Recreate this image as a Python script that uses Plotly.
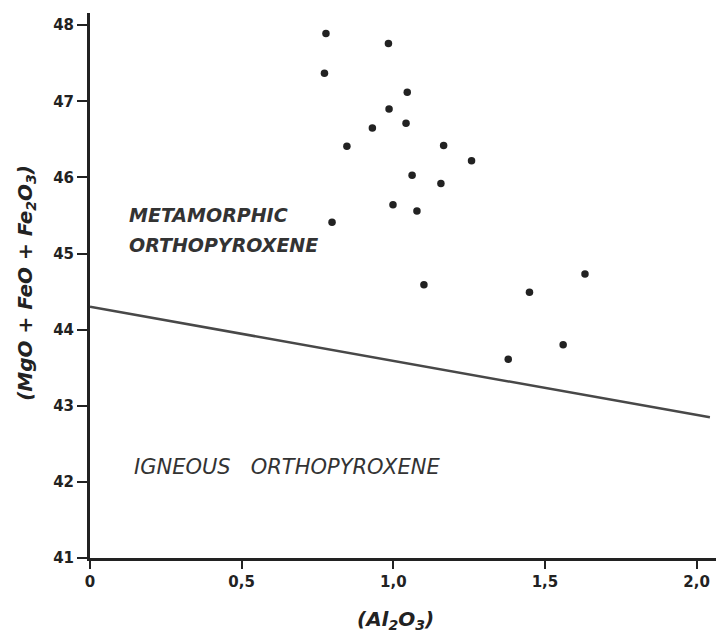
import plotly.graph_objects as go

# Data
al2o3 = [0.778, 0.984, 0.773, 1.046, 0.986, 0.931, 1.042, 0.847, 1.166, 1.258,
         1.062, 1.157, 0.999, 1.078, 0.798, 1.101, 1.449, 1.632, 1.379, 1.560]
mgo_feo = [47.89, 47.76, 47.37, 47.12, 46.90, 46.65, 46.71, 46.41, 46.42, 46.22,
           46.03, 45.92, 45.64, 45.56, 45.41, 44.59, 44.49, 44.73, 43.61, 43.80]

boundary_x = [0.0, 2.044]
boundary_y = [44.30, 44.30 - 0.71 * 2.044]

x_tickvals = [0, 0.5, 1.0, 1.5, 2.0]
x_ticktext = ["0", "0,5", "1,0", "1,5", "2,0"]
y_tickvals = [41, 42, 43, 44, 45, 46, 47, 48]
y_ticktext = ["41", "42", "43", "44", "45", "46", "47", "48"]

ink = "#222222"

fig = go.Figure()
fig.add_trace(go.Scatter(x=boundary_x, y=boundary_y, mode="lines",
                         line=dict(color="#484848", width=2.5),
                         hoverinfo="skip", showlegend=False))
fig.add_trace(go.Scatter(x=al2o3, y=mgo_feo, mode="markers",
                         marker=dict(color=ink, size=7.5),
                         showlegend=False))

tick_font = dict(family="DejaVu Sans", size=15, color=ink, weight="bold")
fig.update_layout(
    width=716, height=632,
    margin=dict(l=90, r=0, t=13, b=74),
    paper_bgcolor="white", plot_bgcolor="white",
    font=dict(family="DejaVu Sans", color=ink),
    xaxis=dict(range=[0, 2.064], showgrid=False, zeroline=False,
               showline=True, linecolor=ink, linewidth=3,
               ticks="outside", ticklen=8, tickwidth=2, tickcolor=ink,
               tickvals=x_tickvals, ticktext=x_ticktext, tickfont=tick_font),
    yaxis=dict(range=[41, 48.16], showgrid=False, zeroline=False,
               showline=True, linecolor=ink, linewidth=3,
               ticks="outside", ticklen=10, tickwidth=2, tickcolor=ink,
               tickvals=y_tickvals, ticktext=y_ticktext, tickfont=tick_font),
)

label_font = dict(family="DejaVu Sans", size=19, color="#333333")
fig.add_annotation(x=0.123, y=45.50, xref="x", yref="y", xanchor="left", yanchor="middle",
                   text="<b><i>METAMORPHIC</i></b>", showarrow=False, font=label_font)
fig.add_annotation(x=0.123, y=45.11, xref="x", yref="y", xanchor="left", yanchor="middle",
                   text="<b><i>ORTHOPYROXENE</i></b>", showarrow=False, font=label_font)
fig.add_annotation(x=0.140, y=42.19, xref="x", yref="y", xanchor="left", yanchor="middle",
                   text="<i>IGNEOUS&nbsp;&nbsp;&nbsp;ORTHOPYROXENE</i>", showarrow=False,
                   font=dict(family="DejaVu Sans", size=21, color="#333333"))

title_font = dict(family="DejaVu Sans", size=20, color=ink)
fig.add_annotation(x=(26 - 90) / 626, y=0.505, xref="paper", yref="paper",
                   xanchor="center", yanchor="middle",
                   text="<b><i>(MgO + FeO + Fe<sub>2</sub>O<sub>3</sub>)</i></b>", textangle=-90,
                   showarrow=False, font=title_font)
fig.add_annotation(x=(395 - 90) / 626, y=-(620 - 558.3) / 545, xref="paper", yref="paper",
                   xanchor="center", yanchor="middle",
                   text="<b><i>(Al<sub>2</sub>O<sub>3</sub>)</i></b>",
                   showarrow=False, font=title_font)

fig.write_html("out.html")
